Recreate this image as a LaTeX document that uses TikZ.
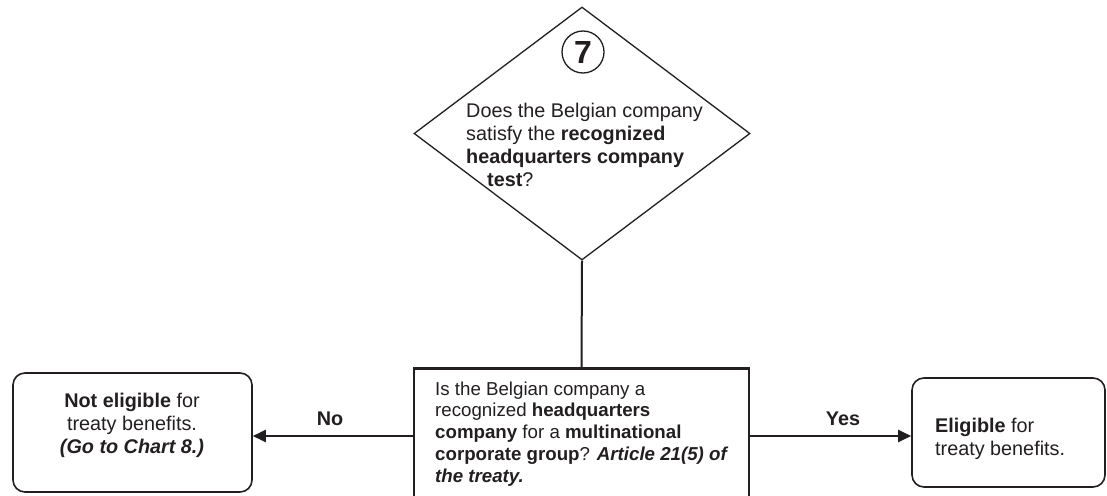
\documentclass[tikz,border=0pt]{standalone}
\usepackage{fontspec}
\setmainfont{Liberation Sans}
\usetikzlibrary{shapes.geometric,arrows.meta}
\definecolor{ink}{HTML}{231F20}
\begin{document}
\begin{tikzpicture}[x=1pt,y=-1pt,
  every node/.style={text=ink},
  body/.style={font=\fontsize{19.8}{23}\selectfont},
  small/.style={font=\fontsize{18.7}{21.7}\selectfont},
  decision/.style={diamond,draw=ink,line width=1.3pt,minimum width=336pt,minimum height=253pt,inner sep=0pt},
  result/.style={draw=ink,line width=1.6pt,rounded corners=12pt,inner sep=0pt},
  question/.style={draw=ink,line width=2.7pt,inner sep=0pt},
  link/.style={draw=ink,line width=2pt},
  arrow/.style={link,-{Triangle[length=13pt,width=12pt]}},
  % multi-line text is placed by the baseline of its last line
  txt/.style={inner sep=0pt,align=left,anchor=base west},
]
\useasboundingbox (0,0) rectangle (1107,495);
\clip (0,0) rectangle (1107,495);
\fill[white] (0,0) rectangle (1107,495);

% decision 7
\node[decision] (q7) at (582,133.5) {};
\node[circle,draw=ink,line width=1.3pt,minimum size=42pt,inner sep=0pt,
      font=\fontsize{32}{32}\selectfont\bfseries] (num) at (583,52) {7};
\node[txt,body] (q7text) at (466,186)
  {Does the Belgian company\\
   satisfy the \textbf{recognized}\\
   \textbf{headquarters company}\\
   \hspace*{21pt}\textbf{test}?};

% headquarters question
\node[question,minimum width=335pt,minimum height=180pt,anchor=north] (hq) at (581.5,367) {};
\node[txt,small] (hqtext) at (435,482)
  {Is the Belgian company a\\
   recognized \textbf{headquarters}\\
   \textbf{company} for a \textbf{multinational}\\
   \textbf{corporate group}? \textbf{\textit{Article 21(5) of}}\\
   \textbf{\textit{the treaty.}}};

% outcomes
\node[result,minimum width=239pt,minimum height=119pt] (no) at (132.5,432.5) {};
\node[body,inner sep=0pt,align=center,anchor=base] (notext) at (132,453)
  {\textbf{Not eligible} for\\ treaty benefits.\\ \textbf{\textit{(Go to Chart 8.)}}};

\node[result,minimum width=193pt,minimum height=109pt] (yes) at (1008.5,432.5) {};
\node[txt,body] (yestext) at (935,455) {\textbf{Eligible} for\\ treaty benefits.};

% connectors
\coordinate (split) at (581.5,436);
\draw[link] (q7.south) -- (hq.north);
\draw[arrow] (split -| hq.west) -- (split -| no.east);
\draw[arrow] (split -| hq.east) -- (split -| yes.west);
\node[body,font=\fontsize{19.8}{23}\selectfont\bfseries,anchor=base] (nolabel) at (330,425) {No};
\node[body,font=\fontsize{19.8}{23}\selectfont\bfseries,anchor=base] (yeslabel) at (843,425) {Yes};
\end{tikzpicture}
\end{document}
